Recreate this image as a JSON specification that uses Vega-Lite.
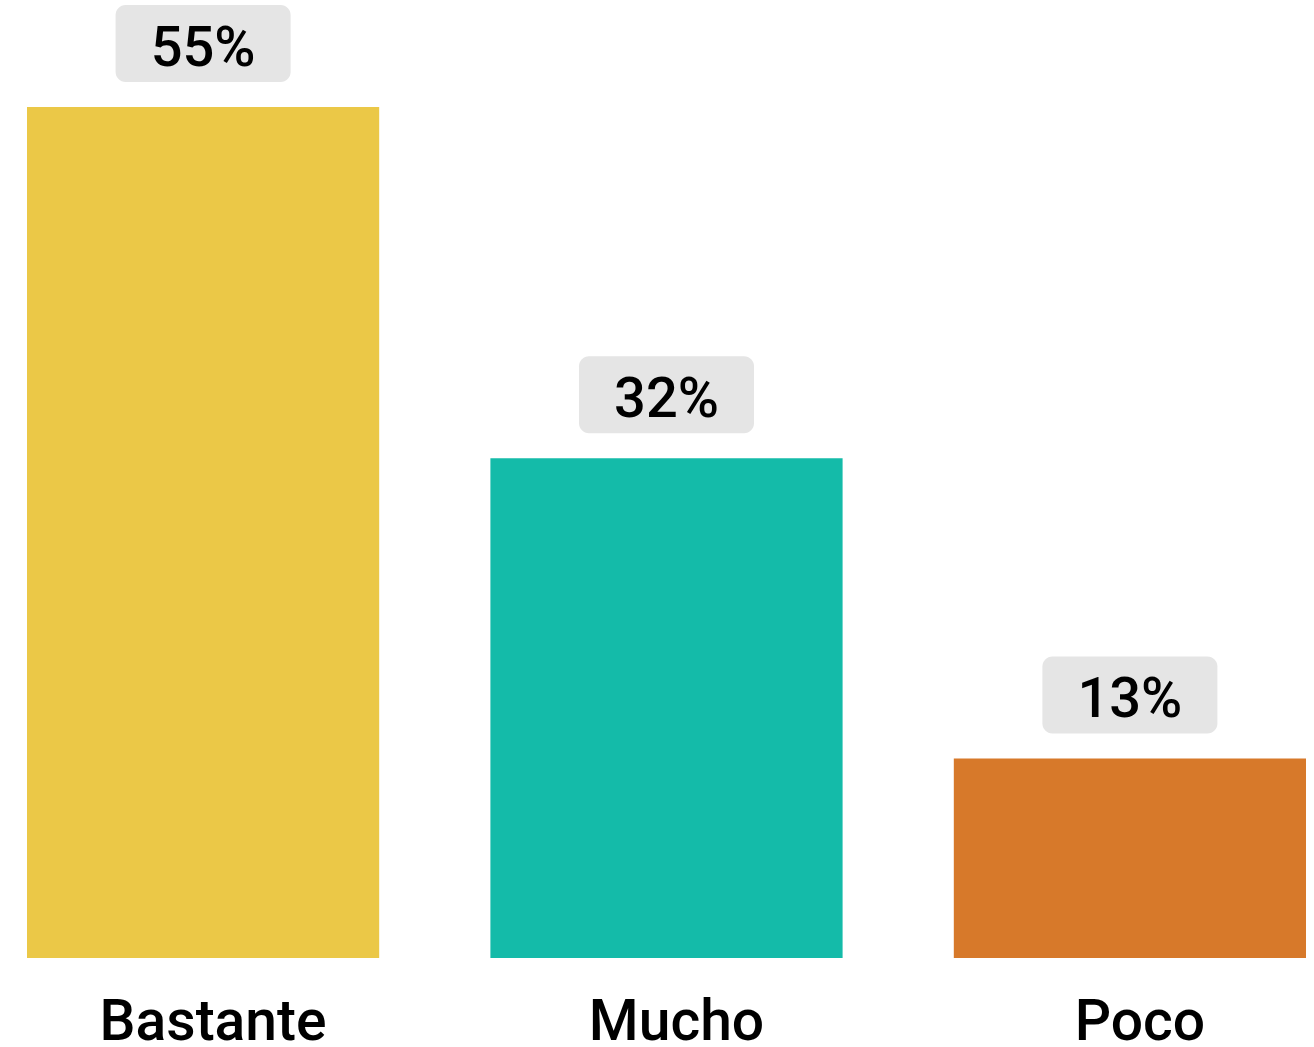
{
  "$schema": "https://vega.github.io/schema/vega-lite/v6.json",
  "width": 1279,
  "height": 958,
  "autosize": {"type": "none"},
  "padding": {"left": 27, "top": 0, "right": 8, "bottom": 89},
  "background": "white",
  "config": {"view": {"stroke": null}},
  "data": {"values": [
    {"category": "Bastante", "value": 0.550},
    {"category": "Mucho", "value": 0.323},
    {"category": "Poco", "value": 0.129}
  ]},
  "encoding": {
    "x": {"field": "category", "type": "nominal", "sort": null,
      "scale": {"paddingInner": 0.24, "paddingOuter": 0},
      "axis": {"title": null, "domain": false, "ticks": false, "labelAngle": 0,
        "labelFont": "Roboto", "labelFontSize": 57, "labelFontWeight": 500, "labelColor": "black",
        "labelPadding": 81, "labelBaseline": "alphabetic", "labelOffset": 10, "labelLimit": 0}},
    "y": {"field": "value", "type": "quantitative",
      "scale": {"domain": [0, 0.6192], "nice": false}, "axis": null}
  },
  "layer": [
    {"mark": {"type": "bar"},
     "encoding": {"color": {"field": "category", "type": "nominal", "legend": null,
       "scale": {"domain": ["Bastante", "Mucho", "Poco"], "range": ["#EBC847", "#14BBA9", "#D7792A"]}}}},
    {"mark": {"type": "bar", "width": 175, "color": "#E5E5E5", "cornerRadius": 10, "yOffset": -25, "y2Offset": -102},
     "encoding": {"y2": {"field": "value"}}},
    {"mark": {"type": "text", "font": "Roboto", "fontSize": 56, "fontWeight": 500, "color": "black", "baseline": "middle", "dy": -58},
     "encoding": {"text": {"field": "value", "type": "quantitative", "format": ".0%"}}}
  ]
}
